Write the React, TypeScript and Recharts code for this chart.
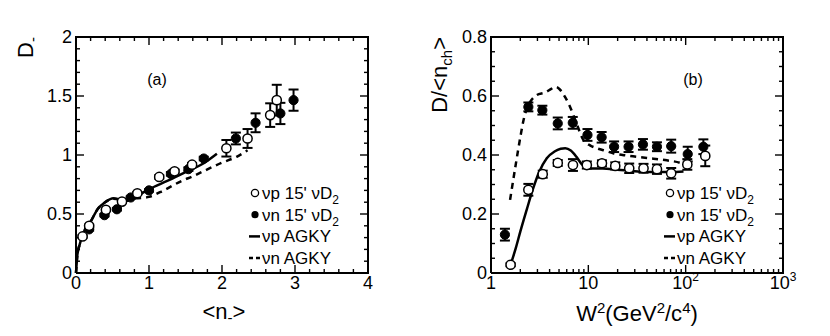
import React from "react";
import {
  ComposedChart,
  Line,
  Scatter,
  ErrorBar,
  XAxis,
  YAxis,
  Legend,
  Customized,
} from "recharts";

const FONT = '"Liberation Sans", Arial, Helvetica, sans-serif';

// ---- panel (a): D- vs <n->
const aVpX = [0.09, 0.18, 0.41, 0.63, 0.84, 1.14, 1.35, 1.59, 2.06, 2.35, 2.66, 2.75];
const aVpY = [0.31, 0.4, 0.535, 0.605, 0.676, 0.814, 0.862, 0.918, 1.057, 1.14, 1.338, 1.465];
const aVpE = [0.01, 0.01, 0.01, 0.01, 0.01, 0.015, 0.015, 0.015, 0.07, 0.08, 0.1, 0.13];

const aVnX = [0.18, 0.39, 0.56, 0.75, 1.0, 1.3, 1.54, 1.75, 2.19, 2.46, 2.8, 2.98];
const aVnY = [0.37, 0.49, 0.54, 0.64, 0.7, 0.84, 0.88, 0.97, 1.14, 1.273, 1.352, 1.465];
const aVnE = [0.01, 0.01, 0.01, 0.01, 0.01, 0.015, 0.015, 0.015, 0.05, 0.08, 0.09, 0.09];

const aVpLineX = [0, 0.02, 0.05, 0.1, 0.2, 0.3, 0.4, 0.51, 0.58, 0.67, 0.78, 0.9, 1.0, 1.25, 1.5, 1.75, 1.93];
const aVpLineY = [0, 0.16, 0.24, 0.34, 0.435, 0.545, 0.6, 0.634, 0.625, 0.607, 0.635, 0.675, 0.71, 0.78, 0.855, 0.93, 1.01];

const aVnLineX = [0, 0.02, 0.05, 0.1, 0.2, 0.3, 0.4, 0.51, 0.6, 0.7, 0.8, 0.9, 1.0, 1.2, 1.43, 1.6, 1.84, 2.0, 2.2, 2.35];
const aVnLineY = [0, 0.16, 0.24, 0.34, 0.435, 0.545, 0.6, 0.63, 0.625, 0.625, 0.632, 0.635, 0.645, 0.7, 0.775, 0.82, 0.89, 0.935, 0.985, 1.04];

const aXDomain: [number, number] = [0, 4];
const aYDomain: [number, number] = [0, 2];
const aXMajor = [0, 1, 2, 3, 4];
const aXMinor = [0.2, 0.4, 0.6, 0.8, 1.2, 1.4, 1.6, 1.8, 2.2, 2.4, 2.6, 2.8, 3.2, 3.4, 3.6, 3.8];
const aYMajor = [0, 0.5, 1, 1.5, 2];
const aYMinor = [0.1, 0.2, 0.3, 0.4, 0.6, 0.7, 0.8, 0.9, 1.1, 1.2, 1.3, 1.4, 1.6, 1.7, 1.8, 1.9];

// ---- panel (b): D/<nch> vs W^2
const bVpX = [1.59, 2.42, 3.4, 4.85, 6.95, 9.65, 13.8, 18.9, 26.3, 36.9, 50.7, 71, 104, 159];
const bVpY = [0.028, 0.282, 0.335, 0.373, 0.366, 0.366, 0.372, 0.363, 0.355, 0.355, 0.352, 0.338, 0.368, 0.397];
const bVpE = [0.005, 0.02, 0.012, 0.01, 0.02, 0.012, 0.01, 0.012, 0.016, 0.015, 0.016, 0.018, 0.018, 0.035];

const bVnX = [1.39, 2.42, 3.37, 4.85, 6.92, 9.8, 13.7, 18.4, 25.9, 36.4, 50.7, 71, 105, 152];
const bVnY = [0.13, 0.563, 0.552, 0.507, 0.509, 0.468, 0.46, 0.428, 0.428, 0.436, 0.428, 0.43, 0.403, 0.428];
const bVnE = [0.02, 0.015, 0.015, 0.02, 0.02, 0.02, 0.018, 0.018, 0.018, 0.018, 0.015, 0.022, 0.025, 0.025];

const bVpLineX = [1.59, 1.8, 2.0, 2.33, 2.7, 3.1, 3.74, 4.5, 5.2, 5.8, 6.6, 7.5, 8.5, 9.6, 11, 14, 20, 30, 50, 70, 95];
const bVpLineY = [0.028, 0.085, 0.14, 0.215, 0.285, 0.34, 0.389, 0.412, 0.421, 0.423, 0.415, 0.395, 0.37, 0.357, 0.354, 0.354, 0.35, 0.345, 0.342, 0.342, 0.344];

const bVnLineX = [1.57, 1.8, 2.0, 2.2, 2.42, 2.95, 3.6, 4.2, 4.6, 5.1, 5.8, 6.5, 7.5, 8.9, 10.5, 12.2, 15, 18, 25, 40, 64, 90, 105];
const bVnLineY = [0.248, 0.37, 0.46, 0.53, 0.568, 0.603, 0.612, 0.625, 0.631, 0.622, 0.595, 0.563, 0.51, 0.451, 0.432, 0.423, 0.414, 0.406, 0.398, 0.39, 0.382, 0.372, 0.362];

const bXDomain: [number, number] = [1, 1000];
const bYDomain: [number, number] = [0, 0.8];
const bXMajor = [1, 10, 100, 1000];
const bXMinor = [2, 3, 4, 5, 6, 7, 8, 9, 20, 30, 40, 50, 60, 70, 80, 90, 200, 300, 400, 500, 600, 700, 800, 900];
const bYMajor = [0, 0.2, 0.4, 0.6, 0.8];
const bYMinor = [0.05, 0.1, 0.15, 0.25, 0.3, 0.35, 0.45, 0.5, 0.55, 0.65, 0.7, 0.75];

const legendNames = ["\u03bdp 15' \u03bdD", "\u03bdn 15' \u03bdD", "\u03bdp AGKY", "\u03bdn AGKY"];

const pts = (xs: number[], ys: number[], es?: number[]) =>
  xs.map((x, i) => ({ x, y: ys[i], e: es ? es[i] : 0 }));

const W = 415;
const H = 336;
const margin = { top: 37, right: 47, left: 36, bottom: 33 };

const MAJOR_LEN = 8;
const MINOR_LEN = 4;

// frame drawn as a closed line through the domain corners
const frame = (xd: [number, number], yd: [number, number]) => [
  { x: xd[0], y: yd[0] },
  { x: xd[1], y: yd[0] },
  { x: xd[1], y: yd[1] },
  { x: xd[0], y: yd[1] },
  { x: xd[0], y: yd[0] },
];

// tick marks: scatter points on the frame edges, each drawn as a short inward line
const tickShape = (dx: number, dy: number) => (p: any) =>
  <line x1={p.cx} y1={p.cy} x2={p.cx + dx} y2={p.cy + dy} stroke="#000" strokeWidth={1.4} />;

function tickSeries(
  id: string,
  xd: [number, number],
  yd: [number, number],
  xMajor: number[],
  xMinor: number[],
  yMajor: number[],
  yMinor: number[]
) {
  const sets = [
    { data: xMajor.map((x) => ({ x, y: yd[0] })), dx: 0, dy: -MAJOR_LEN },
    { data: xMinor.map((x) => ({ x, y: yd[0] })), dx: 0, dy: -MINOR_LEN },
    { data: xMajor.map((x) => ({ x, y: yd[1] })), dx: 0, dy: MAJOR_LEN },
    { data: xMinor.map((x) => ({ x, y: yd[1] })), dx: 0, dy: MINOR_LEN },
    { data: yMajor.map((y) => ({ x: xd[0], y })), dx: MAJOR_LEN, dy: 0 },
    { data: yMinor.map((y) => ({ x: xd[0], y })), dx: MINOR_LEN, dy: 0 },
    { data: yMajor.map((y) => ({ x: xd[1], y })), dx: -MAJOR_LEN, dy: 0 },
    { data: yMinor.map((y) => ({ x: xd[1], y })), dx: -MINOR_LEN, dy: 0 },
  ];
  return sets.map((s, i) => (
    <Scatter key={id + i} xAxisId="b" yAxisId="l" data={s.data} dataKey="y"
      shape={tickShape(s.dx, s.dy)} isAnimationActive={false} legendType="none" />
  ));
}

// axis labels only (tick marks come from tickSeries)
function bottomLabel(label: (v: number) => React.ReactNode) {
  return (props: any) => (
    <text x={props.x} y={props.y + 16} textAnchor="middle" fontSize={18} fontFamily={FONT} fill="#000">
      {label(props.payload.value)}
    </text>
  );
}

const leftLabel = (props: any) => (
  <text x={props.x - 4} y={props.y + 6} textAnchor="end" fontSize={18} fontFamily={FONT} fill="#000">
    {String(props.payload.value)}
  </text>
);

const logLabel = (v: number) => {
  if (v === 1) return "1";
  if (v === 10) return "10";
  const p = Math.round(Math.log10(v));
  return (
    <>
      10
      <tspan dy={-8} fontSize={12}>
        {p}
      </tspan>
    </>
  );
};

const openDot = (p: any) => <circle cx={p.cx} cy={p.cy} r={4.6} fill="#fff" stroke="#000" strokeWidth={1.5} />;
const fullDot = (p: any) => <circle cx={p.cx} cy={p.cy} r={4.6} fill="#000" stroke="#000" strokeWidth={1} />;

function LegendBox() {
  const rows = [0, 1, 2, 3];
  return (
    <svg width={130} height={92} style={{ display: "block" }}>
      {rows.map((i) => {
        const cy = 12 + i * 21.7;
        return (
          <g key={i}>
            {i === 0 && <circle cx={9} cy={cy} r={3.6} fill="#fff" stroke="#000" strokeWidth={1.3} />}
            {i === 1 && <circle cx={9} cy={cy} r={3.6} fill="#000" />}
            {i === 2 && <line x1={3} x2={14} y1={cy} y2={cy} stroke="#000" strokeWidth={2.5} />}
            {i === 3 && (
              <line x1={3} x2={14} y1={cy} y2={cy} stroke="#000" strokeWidth={2.5} strokeDasharray="4 3" />
            )}
            <text x={16} y={cy + 6} fontSize={17} fontFamily={FONT} fill="#000">
              {legendNames[i]}
              {i < 2 && (
                <tspan dy={5} fontSize={12}>
                  2
                </tspan>
              )}
            </text>
          </g>
        );
      })}
    </svg>
  );
}

const axisCommon = { type: "number" as const, interval: 0, tickSize: 0, tickMargin: 0, tickLine: false, axisLine: false };

function PanelA() {
  return (
    <ComposedChart width={W} height={H} margin={margin}>
      <XAxis xAxisId="b" dataKey="x" domain={aXDomain} ticks={aXMajor} height={30}
        {...axisCommon} tick={bottomLabel((v) => String(v))} />
      <YAxis yAxisId="l" domain={aYDomain} ticks={aYMajor} width={40} {...axisCommon} tick={leftLabel} />
      <Line xAxisId="b" yAxisId="l" data={frame(aXDomain, aYDomain)} dataKey="y" type="linear"
        stroke="#000" strokeWidth={2} dot={false} isAnimationActive={false} legendType="none" />
      {tickSeries("a", aXDomain, aYDomain, aXMajor, aXMinor, aYMajor, aYMinor)}
      <Line xAxisId="b" yAxisId="l" data={pts(aVnLineX, aVnLineY)} dataKey="y" type="monotone"
        stroke="#000" strokeWidth={2.5} strokeDasharray="6 5" dot={false} isAnimationActive={false} />
      <Line xAxisId="b" yAxisId="l" data={pts(aVpLineX, aVpLineY)} dataKey="y" type="monotone"
        stroke="#000" strokeWidth={2.5} dot={false} isAnimationActive={false} />
      <Scatter xAxisId="b" yAxisId="l" data={pts(aVnX, aVnY, aVnE)} dataKey="y" shape={fullDot}
        isAnimationActive={false}>
        <ErrorBar dataKey="e" direction="y" width={5} stroke="#000" strokeWidth={2} />
      </Scatter>
      <Scatter xAxisId="b" yAxisId="l" data={pts(aVpX, aVpY, aVpE)} dataKey="y" shape={openDot}
        isAnimationActive={false}>
        <ErrorBar dataKey="e" direction="y" width={5} stroke="#000" strokeWidth={2} />
      </Scatter>
      <Legend layout="vertical" align="center" verticalAlign="middle" content={() => <LegendBox />}
        wrapperStyle={{ left: 246, top: 181, width: 130, height: 92 }} />
      <Customized
        component={() => (
          <g fontFamily={FONT} fill="#000">
            <text x={157} y={85} fontSize={16} textAnchor="middle">(a)</text>
            <text x={224} y={319} fontSize={22} textAnchor="middle">
              {"<n"}
              <tspan dy={4} fontSize={15}>-</tspan>
              <tspan dy={-4}>{">"}</tspan>
            </text>
            <text x={33} y={37} fontSize={22} textAnchor="end" transform="rotate(-90 33 37)">
              D<tspan dy={5} fontSize={15}>-</tspan>
            </text>
          </g>
        )}
      />
    </ComposedChart>
  );
}

function PanelB() {
  return (
    <ComposedChart width={W} height={H} margin={margin}>
      <XAxis xAxisId="b" dataKey="x" domain={bXDomain} scale="log" ticks={bXMajor} height={30}
        {...axisCommon} tick={bottomLabel(logLabel)} />
      <YAxis yAxisId="l" domain={bYDomain} ticks={bYMajor} width={40} {...axisCommon} tick={leftLabel} />
      <Line xAxisId="b" yAxisId="l" data={frame(bXDomain, bYDomain)} dataKey="y" type="linear"
        stroke="#000" strokeWidth={2} dot={false} isAnimationActive={false} legendType="none" />
      {tickSeries("b", bXDomain, bYDomain, bXMajor, bXMinor, bYMajor, bYMinor)}
      <Line xAxisId="b" yAxisId="l" data={pts(bVnLineX, bVnLineY)} dataKey="y" type="monotone"
        stroke="#000" strokeWidth={2.5} strokeDasharray="6 5" dot={false} isAnimationActive={false} />
      <Line xAxisId="b" yAxisId="l" data={pts(bVpLineX, bVpLineY)} dataKey="y" type="monotone"
        stroke="#000" strokeWidth={2.5} dot={false} isAnimationActive={false} />
      <Scatter xAxisId="b" yAxisId="l" data={pts(bVnX, bVnY, bVnE)} dataKey="y" shape={fullDot}
        isAnimationActive={false}>
        <ErrorBar dataKey="e" direction="y" width={5} stroke="#000" strokeWidth={2} />
      </Scatter>
      <Scatter xAxisId="b" yAxisId="l" data={pts(bVpX, bVpY, bVpE)} dataKey="y" shape={openDot}
        isAnimationActive={false}>
        <ErrorBar dataKey="e" direction="y" width={5} stroke="#000" strokeWidth={2} />
      </Scatter>
      <Legend layout="vertical" align="center" verticalAlign="middle" content={() => <LegendBox />}
        wrapperStyle={{ left: 246, top: 181, width: 130, height: 92 }} />
      <Customized
        component={() => (
          <g fontFamily={FONT} fill="#000">
            <text x={278} y={85} fontSize={16} textAnchor="middle">(b)</text>
            <text x={222} y={321} fontSize={22} textAnchor="middle">
              W<tspan dy={-8} fontSize={15}>2</tspan>
              <tspan dy={8}>(GeV</tspan>
              <tspan dy={-8} fontSize={15}>2</tspan>
              <tspan dy={8}>/c</tspan>
              <tspan dy={-8} fontSize={15}>4</tspan>
              <tspan dy={8}>)</tspan>
            </text>
            <text x={32} y={37} fontSize={22} textAnchor="end" transform="rotate(-90 32 37)">
              {"D/<n"}
              <tspan dy={5} fontSize={15}>ch</tspan>
              <tspan dy={-5}>{">"}</tspan>
            </text>
          </g>
        )}
      />
    </ComposedChart>
  );
}

export default function App() {
  return (
    <div style={{ position: "absolute", left: 0, top: 0, width: 830, height: 336, display: "flex" }}>
      <div style={{ position: "relative", width: W, height: H }}>
        <PanelA />
      </div>
      <div style={{ position: "relative", width: W, height: H }}>
        <PanelB />
      </div>
    </div>
  );
}
